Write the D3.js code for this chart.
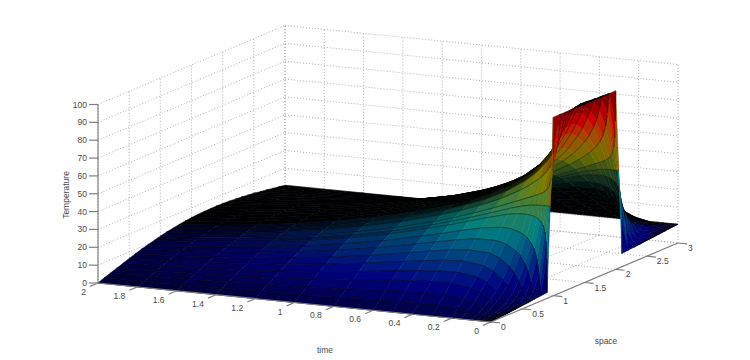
<!DOCTYPE html>
<html lang="en">
<head>
<meta charset="UTF-8">
<title>Temperature surface</title>
<script src="https://d3js.org/d3.v7.min.js"></script>
<style>
  html, body { margin:0; padding:0; background:#fff; overflow:hidden; }
  text { font-family:"Liberation Sans",sans-serif; font-size:8.5px; fill:#4a4a4a; }
  .grid { stroke:#9a9a9a; stroke-width:.8; stroke-dasharray:1 2; fill:none; }
  .axis { stroke:#808080; stroke-width:1.2; fill:none; }
</style>
</head>
<body>
<div id="chart"></div>
<script>
const timeTicks=[0,0.2,0.4,0.6,0.8,1,1.2,1.4,1.6,1.8,2];
const spaceTicks=[0,0.5,1,1.5,2,2.5,3];
const tempTicks=[0,10,20,30,40,50,60,70,80,90,100];

// mesh, denser where the surface changes fast
const spaces=[0,.1,.2,.3,.4,.5,.6,.7,.8,.9,.95,1,1.1,1.2,1.3,1.4,1.5,1.6,1.7,1.8,1.9,2,2.05,2.1,2.2,2.3,2.4,2.5,2.6,2.7,2.8,2.9,3];
const times=[0,.002,.005,.01,.02,.035,.05,.075,.1,.15,.2,.3,.4,.5,.6,.8,1,1.2,1.4,1.6,1.8,2];
// one row per time, one column per space
const temps=[
[0,.4,.7,1,1.4,1.8,2.1,2.5,2.8,3.2,50,100,100,100,100,100,100,100,100,100,100,100,55,7.4,7.7,8.1,8.4,8.8,9.1,9.5,9.8,10.2,10.5],
[0,.4,.7,1,1.4,1.8,2.1,2.5,3.4,22.2,50.8,79.5,98.3,99.2,99.6,99.9,100,100,100,100,100,83,54.7,26.4,8.3,8.1,8.4,8.8,9.1,9.5,9.8,10.2,10.5],
[0,.4,.7,1,1.4,1.8,2.1,2.9,8.2,31.7,50.8,70,93.4,98.8,99.6,99.9,100,100,100,100,96.3,73.5,54.7,35.9,13.1,8.5,8.4,8.8,9.1,9.5,9.8,10.2,10.5],
[0,.4,.7,1,1.4,1.8,2.6,5.4,15.3,36.9,50.8,64.8,86.4,96.3,99,99.9,100,100,100,98.4,89.2,68.3,54.7,41,20.2,11,8.9,8.8,9.1,9.5,9.8,10.2,10.5],
[0,.4,.7,1,1.6,2.6,5.1,11.4,23.2,40.7,50.8,61,78.5,90.3,96.5,99,99.9,99.7,97.9,92.4,81.3,64.5,54.7,44.9,28.1,17,11.4,9.7,9.3,9.5,9.8,10.2,10.5],
[0,.4,.9,1.6,2.7,5.2,9.8,17.8,29,43.1,50.8,58.6,72.7,83.9,91.8,96,97.6,96.7,93.2,86,75.5,62.1,54.7,47.3,33.9,23.4,16.1,12.2,10.4,10,10,10.2,10.5],
[0,.6,1.3,2.5,4.5,8.1,13.7,21.7,32.1,44.4,50.8,57.3,69.5,79.8,87.4,92.1,94,92.8,88.8,81.9,72.3,60.8,54.7,48.6,37,27.3,20,15.2,12.2,10.9,10.4,10.4,10.5],
[0,1.2,2.6,4.8,7.8,12.2,18.4,26.2,35.2,45.4,50.6,55.9,65.9,74.4,81.2,85.7,87.5,86.4,82.6,76.5,68.7,59.4,54.5,49.6,40.1,31.8,24.7,19.2,15.5,13.2,11.7,11,10.5],
[0,1.8,4.1,6.9,10.5,15.4,21.5,28.9,37,45.9,50.4,54.8,63.2,70.6,76.4,80.2,81.8,80.9,77.8,72.7,66,58.3,54.2,50.1,41.9,34.5,27.8,22.5,18.2,15.3,13.2,11.6,10.5],
[0,3.1,6.5,10.4,14.7,19.7,25.6,31.9,38.7,45.7,49.2,52.5,59,64.4,68.7,71.5,72.7,72.2,70.1,66.5,61.8,56,53.1,49.9,43.6,37.5,31.9,26.7,22.4,18.8,15.6,13,10.5],
[0,4,8,12.4,17.1,22.1,27.6,33.2,39.1,44.9,47.6,50.4,55.4,59.7,62.9,65.1,66.2,65.8,64.3,61.8,58.3,53.9,51.5,49.1,44,38.9,33.9,29,24.8,20.8,17.1,13.8,10.5],
[0,4.6,9.3,14,18.7,23.5,28.2,33,37.6,42,43.9,46,49.6,52.5,54.8,56.3,57,57,56.2,54.6,52.4,49.5,47.8,46.2,42.5,38.6,34.5,30.6,26.4,22.4,18.4,14.5,10.5],
[0,4.6,9.3,13.9,18.4,22.9,27.2,31.3,35.2,38.8,40.4,42,44.9,47.1,49,50.2,50.9,50.9,50.4,49.2,47.7,45.5,44.3,43,40.1,36.9,33.5,29.9,26.1,22.3,18.4,14.5,10.5],
[0,4.4,8.8,13.2,17.4,21.5,25.4,29.1,32.4,35.6,37,38.4,40.8,42.8,44.3,45.4,46,46.1,45.7,44.9,43.6,41.9,40.9,39.8,37.3,34.6,31.7,28.5,25,21.6,17.9,14.2,10.5],
[0,4.2,8.3,12.4,16.3,20,23.6,26.9,29.9,32.7,33.9,35.1,37.3,38.9,40.3,41.2,41.8,41.9,41.7,41,40.1,38.6,37.8,36.9,34.8,32.5,29.9,27.1,24,20.8,17.4,14,10.5],
[0,3.5,6.9,10.3,13.6,16.8,19.7,22.5,25,27.4,28.3,29.4,31.2,32.6,33.8,34.7,35.2,35.4,35.2,34.7,33.9,32.9,32.2,31.6,29.9,28.1,26,23.8,21.3,18.7,16,13.3,10.5],
[0,3,5.8,8.7,11.4,14,16.6,19,21.1,23.1,23.9,24.8,26.4,27.6,28.7,29.4,29.9,30.1,30.1,29.7,29.2,28.3,27.8,27.3,26,24.6,22.9,21.1,19.1,17,14.9,12.7,10.5],
[0,2.5,4.9,7.3,9.6,11.9,13.9,15.9,17.7,19.5,20.1,20.9,22.3,23.3,24.3,24.9,25.4,25.6,25.7,25.4,25,24.4,24,23.7,22.6,21.5,20.2,18.9,17.3,15.6,14,12.3,10.5],
[0,2.1,4.1,6.2,8.1,10,11.8,13.5,15.1,16.5,17.1,17.8,19,19.9,20.7,21.3,21.8,22,22.1,22,21.8,21.3,21,20.7,20,19.1,18.1,17.1,15.8,14.6,13.2,11.9,10.5],
[0,1.8,3.5,5.3,6.9,8.6,10.1,11.6,12.9,14.2,14.7,15.3,16.3,17.1,17.9,18.4,18.9,19.1,19.3,19.2,19.1,18.8,18.6,18.4,17.8,17.2,16.4,15.6,14.6,13.7,12.6,11.6,10.5],
[0,1.6,3,4.5,5.9,7.4,8.6,9.9,11,12.2,12.6,13.1,14,14.8,15.5,15.9,16.4,16.6,16.9,16.9,16.8,16.6,16.5,16.4,15.9,15.5,14.9,14.4,13.7,13,12.1,11.3,10.5],
[0,1.4,2.6,3.9,5.1,6.4,7.5,8.7,9.6,10.6,11,11.5,12.3,12.9,13.6,14.1,14.5,14.8,15,15,15.1,15,14.9,14.8,14.5,14.2,13.8,13.4,12.8,12.3,11.7,11.1,10.5]
];

const width=750,height=360;
const svg=d3.select("#chart").append("svg").attr("width",width).attr("height",height);

// oblique view: each data axis adds its own screen offset to the front corner
const origin=[491,322];
const tx=d3.scaleLinear().domain([0,2]).range([0,-393]);
const ty=d3.scaleLinear().domain([0,2]).range([0,-39]);
const sx=d3.scaleLinear().domain([0,3]).range([0,187]);
const sy=d3.scaleLinear().domain([0,3]).range([0,-79]);
const zy=d3.scaleLinear().domain([0,100]).range([0,-178.5]);
function project(t,s,z){return [origin[0]+tx(t)+sx(s),origin[1]+ty(t)+sy(s)+zy(z)];}

const line=d3.line();
const jet=d3.scaleLinear().domain([0,12.5,37.5,62.5,87.5,100])
  .range(["#000080","#0000ff","#00ffff","#ffff00","#ff0000","#800000"]);

// walls and floor
const gridG=svg.append("g");
function gridLine(a,b){gridG.append("path").attr("class","grid").attr("d",line([a,b]));}
tempTicks.forEach(z=>{
  gridLine(project(2,0,z),project(2,3,z));
  gridLine(project(2,3,z),project(0,3,z));
});
timeTicks.forEach(t=>{
  gridLine(project(t,3,0),project(t,3,100));
  gridLine(project(t,0,0),project(t,3,0));
});
spaceTicks.forEach(s=>{
  gridLine(project(2,s,0),project(2,s,100));
  gridLine(project(2,s,0),project(0,s,0));
});

// surface cells, far corner first so the near ones paint over
const cells=[];
for(let i=times.length-2;i>=0;i--){
  for(let j=spaces.length-2;j>=0;j--){
    const a=project(times[i],spaces[j],temps[i][j]);
    const b=project(times[i],spaces[j+1],temps[i][j+1]);
    const c=project(times[i+1],spaces[j+1],temps[i+1][j+1]);
    const d=project(times[i+1],spaces[j],temps[i+1][j]);
    const mean=(temps[i][j]+temps[i][j+1]+temps[i+1][j+1]+temps[i+1][j])/4;
    // the original mesh goes black where its lines bunch up on screen:
    // screen area of one original mesh cell (ds .05, dt .01) sets the shade
    const ks=(spaces[j+1]-spaces[j])/0.05, kt=(times[i+1]-times[i])/0.01;
    const esx=(b[0]+c[0]-a[0]-d[0])/2/ks, esy=(b[1]+c[1]-a[1]-d[1])/2/ks;
    const etx=(d[0]+c[0]-a[0]-b[0])/2/kt, ety=(d[1]+c[1]-a[1]-b[1])/2/kt;
    const cross=(esx*ety-esy*etx)/2;
    const step=Math.abs(cross);
    let shade=.6*(1-Math.pow(1.7/Math.max(step,.01),2));
    if(cross>0) shade=Math.min(.8,(mean-35)/65); // underside of the hot block: black low down, bright near the top
    else shade=Math.min(shade,.5);
    shade=Math.max(.02,shade);
    const col=d3.rgb(jet(mean));
    cells.push({a,b,c,d,fill:d3.rgb(col.r*shade,col.g*shade,col.b*shade).formatHex()});
  }
}
const cellG=svg.append("g").selectAll("g").data(cells).join("g");
cellG.append("path")
  .attr("d",d=>line([d.a,d.b,d.c,d.d])+"Z")
  .attr("fill",d=>d.fill).attr("stroke",d=>d.fill).attr("stroke-width",.5);
cellG.append("path")
  .attr("d",d=>line([d.a,d.d])+line([d.b,d.c]))
  .attr("fill","none").attr("stroke","#000").attr("stroke-width",.5).attr("stroke-opacity",.7);

// axes
const axisG=svg.append("g");
axisG.append("path").attr("class","axis").attr("d",line([project(2,0,0),project(2,0,100)]));
axisG.append("path").attr("class","axis").attr("d",line([project(2,0,0),project(0,0,0)]));
axisG.append("path").attr("class","axis").attr("d",line([project(0,0,0),project(0,3,0)]));

tempTicks.forEach(z=>{
  const p=project(2,0,z);
  axisG.append("path").attr("class","axis").attr("d",line([p,[p[0]-9,p[1]]]));
  axisG.append("text").attr("x",p[0]-11).attr("y",p[1]+3).attr("text-anchor","end").text(z);
});
timeTicks.forEach(t=>{
  const p=project(t,0,0);
  axisG.append("path").attr("class","axis").attr("d",line([p,[p[0]-8,p[1]+3.4]]));
  axisG.append("text").attr("x",p[0]-12).attr("y",p[1]+12).attr("text-anchor","end").text(t);
});
spaceTicks.forEach(s=>{
  const p=project(0,s,0);
  axisG.append("path").attr("class","axis").attr("d",line([p,[p[0]+9,p[1]+.9]]));
  axisG.append("text").attr("x",p[0]+10).attr("y",p[1]+8).text(s);
});

svg.append("text").attr("x",325).attr("y",353).attr("text-anchor","middle").text("time");
svg.append("text").attr("x",606).attr("y",344).attr("text-anchor","middle").text("space");
svg.append("text").attr("transform","translate(69,195) rotate(-90)").attr("text-anchor","middle").text("Temperature");
</script>
</body>
</html>
